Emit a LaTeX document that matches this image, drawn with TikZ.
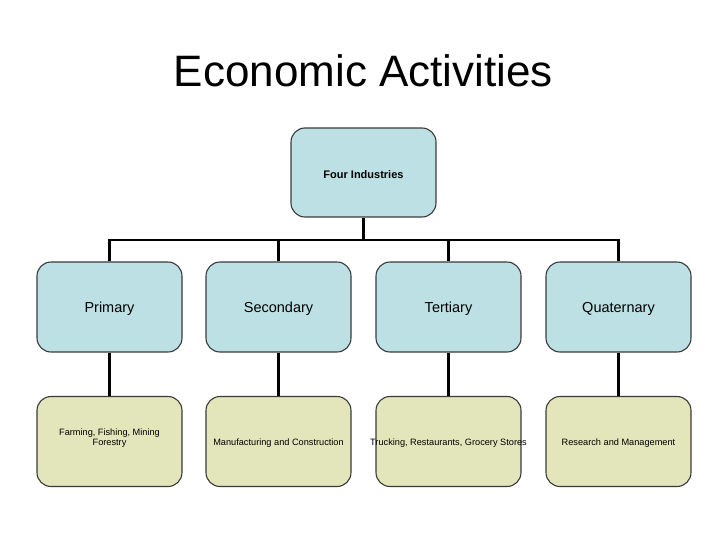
\documentclass[tikz,border=0pt]{standalone}
\usepackage{fontspec}
\setmainfont{Liberation Sans}
\definecolor{midfill}{HTML}{BCE0E4}
\definecolor{lowfill}{HTML}{E2E6BA}
\definecolor{boxline}{HTML}{3A3A3A}
\begin{document}
\begin{tikzpicture}[x=1pt,y=-1pt,
  box/.style={draw=boxline, line width=1.1pt, rounded corners=14pt, minimum width=145pt, minimum height=90pt, inner sep=0pt},
  midbox/.style={box, fill=midfill},
  lowbox/.style={box, fill=lowfill},
  toptext/.style={font=\fontsize{11}{13}\selectfont\bfseries, yshift=-2pt},
  midtext/.style={font=\fontsize{14.5}{17}\selectfont, yshift=-2pt},
  lowtext/.style={font=\fontsize{9.2}{11}\selectfont, yshift=-1.5pt},
  conn/.style={line width=2.6pt, black}]
\useasboundingbox (0,0) rectangle (728,546);
\node[anchor=base, font=\fontsize{44}{50}\selectfont] (title) at (363.5,86) {Economic Activities};
\node[midbox, minimum height=89pt] (top) at (363.5,172.5) {};
\node[toptext] (tt) at (top.center) {Four Industries};
\node[midbox] (m1) at (109.5,307) {};
\node[midbox] (m2) at (278.5,307) {};
\node[midbox] (m3) at (448.5,307) {};
\node[midbox] (m4) at (618.5,307) {};
\node[midtext] (mt1) at (m1.center) {Primary};
\node[midtext] (mt2) at (m2.center) {Secondary};
\node[midtext] (mt3) at (m3.center) {Tertiary};
\node[midtext] (mt4) at (m4.center) {Quaternary};
\node[lowbox] (b1) at (109.5,441.5) {};
\node[lowbox] (b2) at (278.5,441.5) {};
\node[lowbox] (b3) at (448.5,441.5) {};
\node[lowbox] (b4) at (618.5,441.5) {};
\node[font=\fontsize{9.2}{10.5}\selectfont, align=center, anchor=base] (t1) at (109.5,445.5) {Farming, Fishing, Mining\\Forestry};
\node[lowtext] (t2) at (b2.center) {Manufacturing and Construction};
\node[lowtext] (t3) at (b3.center) {Trucking, Restaurants, Grocery Stores};
\node[lowtext] (t4) at (b4.center) {Research and Management};
\coordinate (bar) at (363.5,240);
\draw[conn] (top.south) -- (bar);
\draw[conn] (m1.north) |- (bar) -| (m4.north);
\draw[conn] (m2.north) -- (m2.north |- bar);
\draw[conn] (m3.north) -- (m3.north |- bar);
\draw[conn] (m1.south) -- (b1.north);
\draw[conn] (m2.south) -- (b2.north);
\draw[conn] (m3.south) -- (b3.north);
\draw[conn] (m4.south) -- (b4.north);
\end{tikzpicture}
\end{document}
